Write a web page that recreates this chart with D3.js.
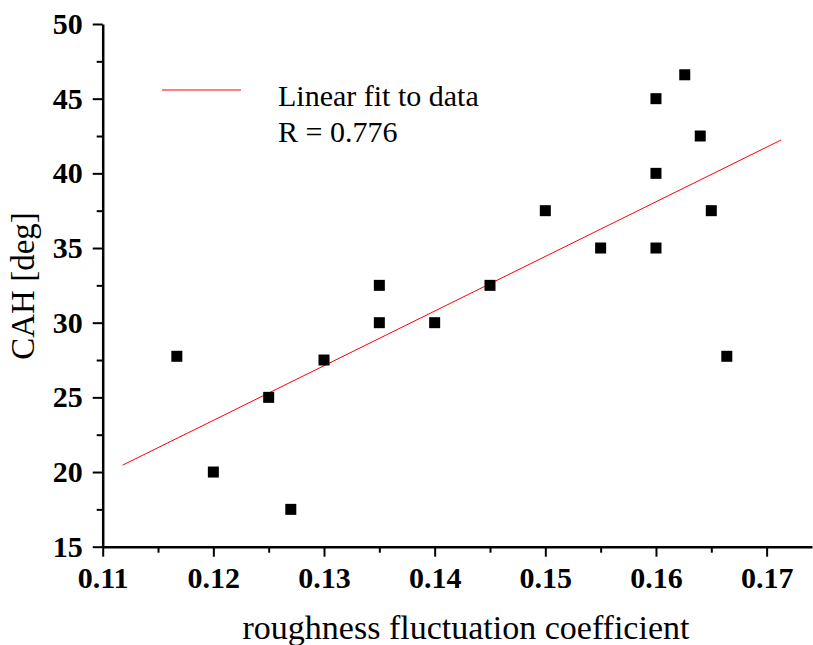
<html>
<head>
    <script src="https://d3js.org/d3.v7.min.js"></script>
    <style>
        body { margin: 0; background: white; }
        .title { font-family: "Liberation Serif", "Times New Roman", serif; fill: black; }
    </style>
</head>
<body>
<div id="chart"></div>
<script>
    // measured data points
    var roughness = [0.1167, 0.12, 0.125, 0.127, 0.13, 0.135, 0.135, 0.14, 0.145, 0.15,
        0.155, 0.16, 0.16, 0.16, 0.1626, 0.164, 0.165, 0.1664];
    var cah = [27.75, 20, 25, 17.5, 27.5, 32.5, 30, 30, 32.5, 37.5,
        35, 45, 40, 35, 46.6, 42.5, 37.5, 27.75];

    // linear fit end points
    var fitX = [0.1118, 0.1713];
    var fitY = [20.46, 42.23];

    var xTicks = [0.11, 0.12, 0.13, 0.14, 0.15, 0.16, 0.17];
    var yTicks = [15, 20, 25, 30, 35, 40, 45, 50];
    var legendLabels = ["Linear fit to data", "R = 0.776"];

    var width = 813, height = 645;

    var x = d3.scaleLinear().domain([0.11, 0.1741]).range([102.7, 812]);
    var y = d3.scaleLinear().domain([15, 50]).range([546.7, 24]);

    var svg = d3.select("#chart").append("svg")
        .attr("width", width)
        .attr("height", height);

    // minor ticks
    var xMinor = d3.range(0.115, 0.1741, 0.01);
    var yMinor = d3.range(17.5, 50, 5);

    svg.append("g")
        .attr("transform", "translate(0," + y(15) + ")")
        .call(d3.axisBottom(x).tickValues(xMinor).tickSize(6).tickFormat(""))
        .call(function (g) { g.select(".domain").remove(); })
        .selectAll("line").attr("stroke-width", 2);

    svg.append("g")
        .attr("transform", "translate(" + x(0.11) + ",0)")
        .call(d3.axisLeft(y).tickValues(yMinor).tickSize(6).tickFormat(""))
        .call(function (g) { g.select(".domain").remove(); })
        .selectAll("line").attr("stroke-width", 2);

    function styleAxis(g) {
        g.attr("font-family", '"Liberation Serif", "Times New Roman", serif')
            .attr("font-size", 30)
            .attr("font-weight", "bold");
        g.select(".domain").attr("stroke-width", 2.5);
        g.selectAll(".tick line").attr("stroke-width", 2);
        g.selectAll(".tick text").attr("fill", "black");
    }

    // major axes
    svg.append("g")
        .attr("transform", "translate(0," + y(15) + ")")
        .call(d3.axisBottom(x).tickValues(xTicks).tickSize(10).tickSizeOuter(0).tickPadding(10)
            .tickFormat(d3.format(".2f")))
        .call(styleAxis);

    svg.append("g")
        .attr("transform", "translate(" + x(0.11) + ",0)")
        .call(d3.axisLeft(y).tickValues(yTicks).tickSize(10).tickSizeOuter(0).tickPadding(10)
            .tickFormat(d3.format("d")))
        .call(styleAxis);

    // fit line
    var fitPts = fitX.map(function (d, i) { return [d, fitY[i]]; });
    svg.append("path")
        .datum(fitPts)
        .attr("d", d3.line().x(function (d) { return x(d[0]); }).y(function (d) { return y(d[1]); }))
        .attr("fill", "none")
        .attr("stroke", "#ff0000")
        .attr("stroke-width", 1);

    // points
    var size = 11;
    svg.append("g")
        .selectAll("rect")
        .data(roughness.map(function (d, i) { return [d, cah[i]]; }))
        .join("rect")
        .attr("x", function (d) { return x(d[0]) - size / 2; })
        .attr("y", function (d) { return y(d[1]) - size / 2; })
        .attr("width", size)
        .attr("height", size)
        .attr("fill", "black");

    // legend
    svg.append("line")
        .attr("x1", 162).attr("x2", 241)
        .attr("y1", 90).attr("y2", 90)
        .attr("stroke", "#ff0000")
        .attr("stroke-width", 1);

    svg.selectAll("text.legend")
        .data(legendLabels)
        .join("text")
        .attr("class", "title legend")
        .attr("x", 278)
        .attr("y", function (d, i) { return 106 + i * 36; })
        .style("font-size", "30px")
        .text(function (d) { return d; });

    // axis titles
    svg.append("text")
        .attr("class", "title")
        .attr("x", 466)
        .attr("y", 639)
        .attr("text-anchor", "middle")
        .style("font-size", "34px")
        .text("roughness fluctuation coefficient");

    svg.append("text")
        .attr("class", "title")
        .attr("transform", "translate(34," + 286 + ") rotate(-90)")
        .attr("text-anchor", "middle")
        .style("font-size", "33px")
        .text("CAH [deg]");
</script>
</body>
</html>
